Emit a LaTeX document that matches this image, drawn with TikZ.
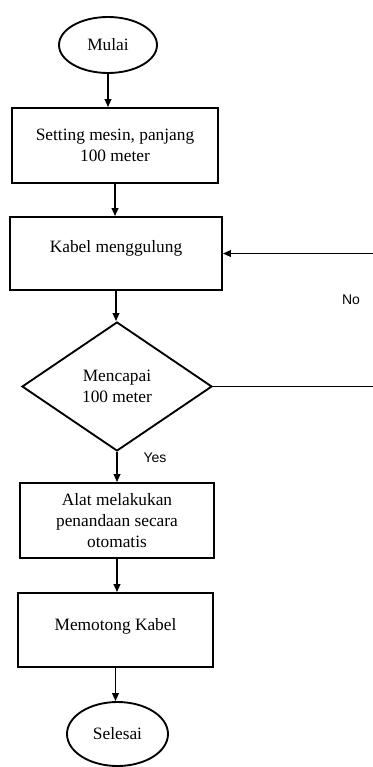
\documentclass[tikz,border=0pt]{standalone}
\usepackage{fontspec}
\setmainfont{Liberation Serif}
\newfontfamily\yesnofont{Liberation Sans}
\usetikzlibrary{shapes.geometric,arrows.meta}
\tikzset{every picture/.style={line width=0.75pt}}
\tikzset{
  procbox/.style={draw,line width=1.4pt,rectangle,inner sep=0pt,align=center,font=\fontsize{13}{15.5}\selectfont},
  termbox/.style={draw,line width=1.4pt,ellipse,inner sep=0pt,font=\fontsize{13}{15.5}\selectfont},
  decbox/.style={draw,line width=1.4pt,diamond,inner sep=0pt,align=center,font=\fontsize{13}{15.5}\selectfont},
  flow/.style={line width=1.3pt,-{Triangle[length=6pt,width=5pt]}},
  yesno/.style={inner sep=0pt,font=\yesnofont\fontsize{10.5}{12}\selectfont}
}
\begin{document}
\begin{tikzpicture}[x=0.75pt,y=0.75pt,yscale=-1,xscale=1]
\useasboundingbox (0,0) rectangle (372,767);

%Shape: Ellipse
\node[termbox,minimum width=73.5pt,minimum height=42pt] (mulai) at (108,45) {Mulai};
%Shape: Rectangle
\node[procbox,minimum width=154.5pt,minimum height=56.25pt] (setting) at (115,145.5) {Setting mesin, panjang\\100 meter};
%Shape: Rectangle
\node[procbox,minimum width=159pt,minimum height=54.75pt] (kabel) at (116,253.5) {\raisebox{3.5pt}[\height][\depth]{Kabel menggulung}};
%Shape: Diamond
\node[decbox,minimum width=142.5pt,minimum height=96.75pt] (cek) at (117,386.5) {Mencapai\\100 meter};
%Shape: Rectangle
\node[procbox,minimum width=145.5pt,minimum height=56.25pt] (alat) at (117,520.5) {Alat melakukan\\penandaan secara\\otomatis};
%Shape: Rectangle
\node[procbox,minimum width=146.25pt,minimum height=55.5pt] (potong) at (115.5,630) {\raisebox{3pt}[\height][\depth]{Memotong Kabel}};
%Shape: Ellipse
\node[termbox,minimum width=75.75pt,minimum height=48pt] (selesai) at (117.5,734) {Selesai};

%Straight Lines
\draw[flow] (mulai.south) -- (mulai.south |- setting.north);
\draw[flow] (setting.south) -- (setting.south |- kabel.north);
\draw[flow] (kabel.south) -- (kabel.south |- cek.north);
\draw[flow] (cek.south) -- (cek.south |- alat.north);
\draw[flow] (alat.south) -- (alat.south |- potong.north);
\draw[flow] (potong.south) -- (potong.south |- selesai.north);
%Loop back (vertical part lies beyond the page edge)
\coordinate (balik) at (385,386.5);
\draw[flow] (cek.east) -- (balik) |- (kabel.east);

% Text Node
\node[yesno] (no) at (351,300) {No};
% Text Node
\node[yesno] (yes) at (155,458) {Yes};

\end{tikzpicture}
\end{document}
